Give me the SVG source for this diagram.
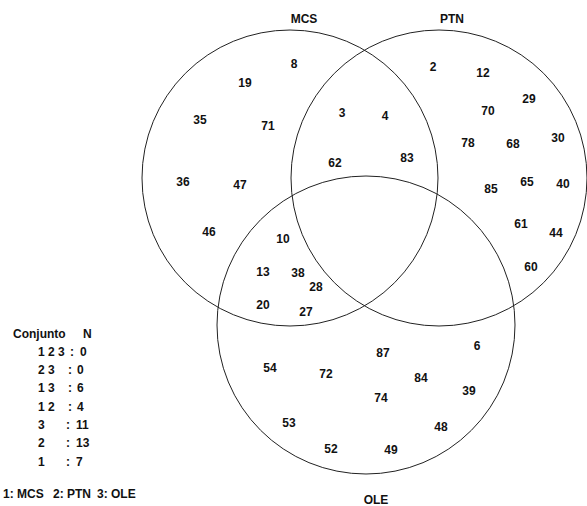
<svg xmlns="http://www.w3.org/2000/svg" width="587" height="506" viewBox="0 0 587 506">
<style>
text{font-family:"Liberation Sans",Arial,sans-serif;font-weight:bold;font-size:12px;fill:#111}
.n{text-anchor:middle}
.c{fill:none;stroke:#222;stroke-width:1}
</style>
<rect width="587" height="506" fill="#fff"/>
<g id="connectors"></g>
<g id="MCS"><circle class="c" cx="290" cy="178" r="148"/><text class="n" x="304" y="23">MCS</text></g>
<g id="PTN"><circle class="c" cx="439" cy="178" r="148"/><text class="n" x="452" y="23">PTN</text></g>
<g id="OLE"><circle class="c" cx="366" cy="325" r="149"/><text class="n" x="376" y="504">OLE</text></g>
<g id="numbers">
<text class="n" x="294" y="68">8</text>
<text class="n" x="245" y="87">19</text>
<text class="n" x="200" y="124">35</text>
<text class="n" x="268" y="130">71</text>
<text class="n" x="183" y="186">36</text>
<text class="n" x="240" y="189">47</text>
<text class="n" x="209" y="236">46</text>
<text class="n" x="342" y="117">3</text>
<text class="n" x="385" y="120">4</text>
<text class="n" x="335" y="167">62</text>
<text class="n" x="407" y="162">83</text>
<text class="n" x="433" y="71">2</text>
<text class="n" x="483" y="77">12</text>
<text class="n" x="529" y="103">29</text>
<text class="n" x="488" y="115">70</text>
<text class="n" x="558" y="142">30</text>
<text class="n" x="468" y="147">78</text>
<text class="n" x="513" y="148">68</text>
<text class="n" x="491" y="193">85</text>
<text class="n" x="527" y="186">65</text>
<text class="n" x="563" y="188">40</text>
<text class="n" x="521" y="228">61</text>
<text class="n" x="556" y="237">44</text>
<text class="n" x="531" y="271">60</text>
<text class="n" x="283" y="243">10</text>
<text class="n" x="263" y="276">13</text>
<text class="n" x="298" y="277">38</text>
<text class="n" x="316" y="291">28</text>
<text class="n" x="263" y="309">20</text>
<text class="n" x="306" y="316">27</text>
<text class="n" x="383" y="357">87</text>
<text class="n" x="477" y="350">6</text>
<text class="n" x="270" y="372">54</text>
<text class="n" x="326" y="378">72</text>
<text class="n" x="421" y="382">84</text>
<text class="n" x="469" y="395">39</text>
<text class="n" x="381" y="402">74</text>
<text class="n" x="289" y="427">53</text>
<text class="n" x="441" y="431">48</text>
<text class="n" x="331" y="453">52</text>
<text class="n" x="391" y="454">49</text>
</g>
<g id="legend">
<text x="13" y="338">Conjunto</text><text x="83" y="338">N</text>
<text x="38" y="356">1 2 3</text><text x="70" y="356">:</text><text x="80" y="356">0</text>
<text x="38" y="374">2 3</text><text x="68" y="374">:</text><text x="77" y="374">0</text>
<text x="38" y="392">1 3</text><text x="68" y="392">:</text><text x="77" y="392">6</text>
<text x="38" y="411">1 2</text><text x="68" y="411">:</text><text x="77" y="411">4</text>
<text x="38" y="429">3</text><text x="66" y="429">:</text><text x="76" y="429">11</text>
<text x="38" y="447">2</text><text x="66" y="447">:</text><text x="76" y="447">13</text>
<text x="38" y="466">1</text><text x="66" y="466">:</text><text x="76" y="466">7</text>
<text x="3" y="498">1: MCS</text><text x="53" y="498">2: PTN</text><text x="97" y="498">3: OLE</text>
</g>
</svg>
